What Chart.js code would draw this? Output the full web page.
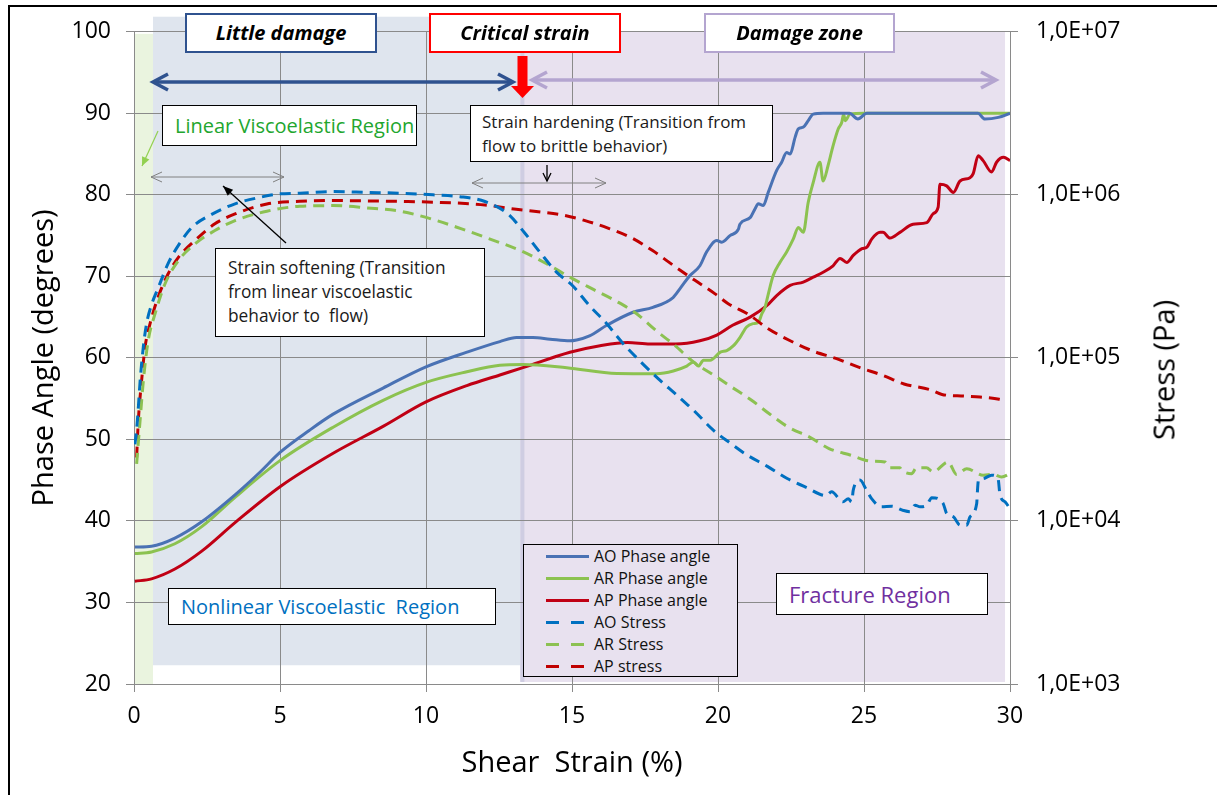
<!DOCTYPE html>
<html>
<head>
<meta charset="utf-8">
<script src="https://cdn.jsdelivr.net/npm/chart.js@4.4.1/dist/chart.umd.min.js"></script>
<style>
  body { margin: 0; background: #fff; font-family: "Open Sans", sans-serif; }
  #wrap { position: relative; width: 1217px; height: 795px; overflow: hidden; }
  #moldura { position: absolute; left: 8px; top: 5px; width: 1300px; height: 900px; border-top: 2px solid #000; border-left: 2px solid #000; }
  #grafico { position: absolute; left: 0; top: 0; }
  .caixa { position: absolute; background: #fff; border: 1px solid #000; box-sizing: border-box; white-space: pre; color: #1a1a1a; }
  .etiqueta { top: 13px; height: 40px; border-width: 2px; text-align: center; line-height: 36px; font-size: 20px; font-weight: bold; font-style: italic; color: #000; }
  #tituloDireita { position: absolute; left: 1163px; top: 370px; transform: translate(-50%, -50%) rotate(-90deg); font-size: 29px; white-space: nowrap; color: #000; }
  #legenda { position: absolute; left: 523px; top: 544px; width: 215px; height: 133px; border: 1px solid #000; box-sizing: border-box; background: #e8e1ef; }
  .item { height: 22px; display: flex; align-items: center; font-size: 16px; color: #111; }
  .amostra { width: 43px; height: 3px; margin-left: 22px; margin-right: 5px; }
</style>
</head>
<body>
<div id="wrap">
  <div id="moldura"></div>
  <canvas id="grafico" width="1217" height="795"></canvas>

  <div class="caixa etiqueta" style="left:185px; width:192px; border-color:#2f528f;">Little damage</div>
  <div class="caixa etiqueta" style="left:429px; width:192px; border-color:#ff0000;">Critical strain</div>
  <div class="caixa etiqueta" style="left:704px; width:191px; border-color:#b4a5d0;">Damage zone</div>

  <div class="caixa" style="left:162px; top:105px; width:255px; height:41px; padding-left:12px; line-height:39px; font-size:20px; color:#22a62e;">Linear Viscoelastic Region</div>
  <div class="caixa" style="left:470px; top:105px; width:303px; height:57px; padding:4px 11px; line-height:24px; font-size:17px;">Strain hardening (Transition from
flow to brittle behavior)</div>
  <div class="caixa" style="left:215px; top:248px; width:270px; height:89px; padding:7px 12px; line-height:24px; font-size:17.3px;">Strain softening (Transition
from linear viscoelastic
behavior to  flow)</div>
  <div class="caixa" style="left:168px; top:588px; width:328px; height:37px; padding-left:12px; line-height:35px; font-size:20px; color:#0070c0;">Nonlinear Viscoelastic  Region</div>
  <div class="caixa" style="left:776px; top:573px; width:212px; height:42px; padding-left:12px; line-height:40px; font-size:22px; color:#7030a0;">Fracture Region</div>

  <div id="legenda"></div>
  <div id="tituloDireita">Stress (Pa)</div>
</div>

<script>
// deformação (%) e ângulo de fase (graus)
const aoPhaseStrain = [0.03, 0.6, 1.4, 2.32, 3.46, 4.32, 5.0, 6.0, 6.82, 8.53, 10.0, 11.4, 12.53, 13.1, 13.66, 14.25, 14.93, 15.16, 15.6, 16.19, 17.09, 17.77, 18.46, 18.7, 19.04, 19.38, 19.61, 19.96, 20.13, 20.41, 20.7, 20.75, 21.1, 21.27, 21.38, 21.55, 21.72, 22.01, 22.18, 22.35, 22.47, 22.64, 22.75, 22.92, 23.09, 23.26, 23.6, 24.5, 24.79, 25.1, 26, 27, 28, 28.9, 29.14, 29.6, 30];
const aoPhase = [36.8, 36.9, 37.9, 39.9, 43.2, 46.0, 48.4, 51.1, 53.1, 56.3, 58.9, 60.7, 62.0, 62.5, 62.5, 62.3, 62.1, 62.2, 62.7, 64.0, 65.6, 66.2, 67.4, 68.5, 70.1, 71.3, 73.0, 74.4, 74.2, 75.0, 75.8, 76.4, 77.2, 78.3, 78.9, 78.7, 80.3, 83.0, 84.0, 85.2, 85.0, 87.05, 88.1, 88.3, 89.1, 89.9, 90, 90, 89.3, 90, 90, 90, 90, 90, 89.3, 89.5, 90];

const arPhaseStrain = [0.03, 0.6, 1.4, 2.32, 3.46, 5.0, 6.82, 8.53, 10.0, 11.4, 12.53, 13.32, 14.82, 16.54, 17.9, 18.47, 18.93, 19.16, 19.33, 19.5, 19.73, 20.08, 20.3, 20.53, 20.75, 20.98, 21.2, 21.39, 21.5, 21.61, 21.72, 21.89, 22.12, 22.35, 22.58, 22.75, 22.92, 23.09, 23.26, 23.49, 23.6, 23.77, 23.94, 24.12, 24.24, 24.3, 24.36, 24.52, 25, 30];
const arPhase = [36.0, 36.2, 37.2, 39.3, 42.9, 47.4, 51.5, 54.8, 57.0, 58.3, 59.1, 59.2, 58.8, 58.1, 58.07, 58.4, 59.0, 59.5, 59.0, 59.7, 59.7, 60.7, 60.9, 61.5, 62.5, 63.8, 64.2, 64.4, 65.4, 66.2, 67.8, 70.1, 71.7, 73.0, 74.6, 76.0, 75.4, 79.1, 81.5, 84.0, 81.7, 83.6, 86.0, 88.1, 88.9, 89.9, 89.1, 89.9, 90, 90];

const apPhaseStrain = [0.03, 0.6, 1.4, 2.32, 3.46, 5.0, 6.82, 8.53, 10.0, 11.4, 12.53, 13.32, 14.93, 15.96, 16.9, 17.67, 18.55, 19.38, 19.96, 20.5, 21.1, 21.67, 22.01, 22.47, 22.92, 23.26, 23.6, 23.94, 24.18, 24.41, 24.64, 24.93, 25.1, 25.27, 25.55, 25.65, 25.89, 26.23, 26.68, 27.15, 27.37, 27.54, 27.6, 27.83, 28.06, 28.29, 28.63, 28.74, 28.91, 29.08, 29.37, 29.54, 29.78, 30];
const apPhase = [32.6, 32.9, 34.1, 36.3, 39.8, 44.2, 48.3, 51.6, 54.6, 56.6, 57.9, 58.8, 60.7, 61.5, 61.9, 61.7, 61.7, 62.1, 62.8, 64.0, 65.0, 66.4, 67.65, 68.9, 69.3, 69.9, 70.5, 71.3, 72.2, 71.7, 72.6, 73.4, 73.6, 74.6, 75.4, 75.4, 74.7, 75.4, 76.4, 76.6, 77.7, 78.5, 81.3, 81.1, 80.3, 81.7, 82.1, 82.6, 84.8, 84.2, 82.8, 84.0, 84.6, 84.2];

// tensão (Pa), eixo secundário log
const aoStressStrain = [0.03, 0.09, 0.15, 0.21, 0.32, 0.43, 0.61, 0.83, 1.17, 1.52, 1.98, 2.66, 3.46, 4.32, 5.0, 5.68, 6.82, 7.98, 9.11, 10.24, 11.16, 12.02, 12.81, 13.36, 13.9, 14.47, 15.04, 15.59, 16.19, 16.74, 17.33, 17.95, 18.56, 19.19, 19.82, 20.41, 20.96, 21.69, 22.37, 23.04, 23.7, 23.89, 24.28, 24.46, 24.58, 24.63, 24.86, 25.09, 25.26, 25.6, 25.95, 26.35, 26.58, 26.75, 26.92, 27.15, 27.32, 27.71, 27.83, 28.06, 28.29, 28.52, 28.63, 28.86, 28.88, 28.92, 29.08, 29.37, 29.59, 29.66, 29.83, 30];
const aoStress = [29500, 36300, 50100, 72400, 117000, 162000, 214000, 269000, 380000, 490000, 631000, 759000, 881000, 966000, 1014000, 1023000, 1047000, 1035000, 1023000, 1000000, 975000, 910000, 764000, 590000, 445000, 336000, 275000, 210000, 162000, 123000, 95500, 74600, 59700, 47200, 36300, 30100, 25600, 21600, 18200, 16000, 14300, 15100, 13100, 13700, 13100, 15400, 17800, 15400, 13700, 12200, 12300, 11600, 11400, 12500, 12200, 12500, 13900, 12800, 11100, 10600, 9420, 9420, 10600, 12800, 14800, 17800, 18200, 19100, 18200, 14400, 13100, 11900];

const arStressStrain = [0.09, 0.21, 0.32, 0.49, 0.72, 1.06, 1.52, 2.09, 2.77, 3.46, 4.55, 5.68, 6.82, 7.98, 9.11, 10.37, 11.22, 12.08, 13.28, 14.13, 14.88, 15.73, 16.47, 17.19, 17.88, 18.48, 19.21, 19.78, 20.47, 21.15, 21.78, 22.4, 23.18, 23.8, 24.55, 25.21, 25.72, 25.89, 26.23, 26.29, 26.63, 26.8, 27.14, 27.37, 27.88, 28.17, 28.52, 29.08, 29.42, 29.71, 30];
const arStress = [22400, 41700, 72400, 129000, 186000, 284000, 395000, 501000, 604000, 695000, 794000, 851000, 859000, 832000, 794000, 695000, 618000, 545000, 451000, 378000, 316000, 263000, 225000, 188000, 147000, 121000, 92900, 80000, 66200, 55000, 45100, 37700, 32400, 27800, 25300, 23300, 23000, 21200, 21200, 20500, 19500, 21200, 21200, 20000, 23000, 19300, 20900, 19100, 19300, 18600, 19500];

const apStressStrain = [0.09, 0.15, 0.26, 0.38, 0.55, 0.83, 1.17, 1.52, 2.09, 2.77, 3.46, 4.55, 5.68, 6.82, 7.98, 9.11, 10.24, 12.02, 12.88, 13.7, 14.65, 15.45, 16.21, 17.04, 17.76, 18.53, 19.21, 19.9, 20.35, 21.04, 21.72, 22.49, 23.26, 24.06, 24.86, 25.64, 26.37, 27.26, 27.67, 28.42, 28.97, 29.63, 29.86];
const apStress = [24500, 41700, 72400, 117000, 162000, 237000, 328000, 414000, 525000, 664000, 764000, 879000, 912000, 923000, 918000, 912000, 902000, 867000, 824000, 793000, 753000, 695000, 627000, 545000, 455000, 363000, 299000, 247000, 215000, 185000, 151000, 127000, 110000, 98900, 87100, 78200, 69200, 63800, 59700, 58300, 57500, 55700, 54000];

// limites das regiões (deformação %): linear | pouco dano | crítico | zona de dano
const regionStrain = [0, 0.65, 13.23, 13.37, 29.83];
const stressTicks = [1e3, 1e4, 1e5, 1e6, 1e7];

const series = [
  { label: "AO Phase angle", x: aoPhaseStrain, y: aoPhase, color: "#4a72b4", dash: [], axis: "y" },
  { label: "AR Phase angle", x: arPhaseStrain, y: arPhase, color: "#8cc250", dash: [], axis: "y" },
  { label: "AP Phase angle", x: apPhaseStrain, y: apPhase, color: "#c00014", dash: [], axis: "y" },
  { label: "AO Stress", x: aoStressStrain, y: aoStress, color: "#0070c0", dash: [11, 7], axis: "y2" },
  { label: "AR Stress", x: arStressStrain, y: arStress, color: "#8cc152", dash: [11, 7], axis: "y2" },
  { label: "AP stress", x: apStressStrain, y: apStress, color: "#c00000", dash: [11, 7], axis: "y2" },
];

const corGrade = "#8a8a8a";

// FUNDO DAS REGIÕES
const fundoRegioes = {
  id: "fundoRegioes",
  beforeDraw(chart) {
    const ctx = chart.ctx;
    const sx = chart.scales.x, sy = chart.scales.y;
    function faixa(x0, x1, yTop, yBottom, cor) {
      const a = sx.getPixelForValue(x0), b = sx.getPixelForValue(x1);
      const t = sy.getPixelForValue(yTop), f = sy.getPixelForValue(yBottom);
      ctx.fillStyle = cor;
      ctx.fillRect(a, t, b - a, f - t);
    }
    ctx.save();
    faixa(regionStrain[0], regionStrain[1], 99.75, 20, "#eaf4df");
    faixa(regionStrain[1], regionStrain[2], 101.85, 22.3, "#dfe5ee");
    faixa(regionStrain[2], regionStrain[4], 100, 20.25, "#e8e1ef");
    faixa(regionStrain[2], regionStrain[3], 100, 20.25, "#cfcde2");
    ctx.restore();
  },
};

// SETAS
function ponta(ctx, x, y, ang, comp, abre, cheia) {
  ctx.beginPath();
  ctx.moveTo(x - comp * Math.cos(ang) + abre * Math.sin(ang), y - comp * Math.sin(ang) - abre * Math.cos(ang));
  ctx.lineTo(x, y);
  ctx.lineTo(x - comp * Math.cos(ang) - abre * Math.sin(ang), y - comp * Math.sin(ang) + abre * Math.cos(ang));
  if (cheia) { ctx.closePath(); ctx.fill(); } else ctx.stroke();
}

function seta(ctx, x1, y1, x2, y2, cor, largura, comp, abre, duas, cheia) {
  ctx.save();
  ctx.strokeStyle = cor;
  ctx.fillStyle = cor;
  ctx.lineWidth = largura;
  ctx.lineJoin = "miter";
  ctx.beginPath();
  ctx.moveTo(x1, y1);
  ctx.lineTo(x2, y2);
  ctx.stroke();
  const ang = Math.atan2(y2 - y1, x2 - x1);
  ponta(ctx, x2, y2, ang, comp, abre, cheia);
  if (duas) ponta(ctx, x1, y1, ang + Math.PI, comp, abre, cheia);
  ctx.restore();
}

const setas = {
  id: "setas",
  afterDraw(chart) {
    const ctx = chart.ctx;
    seta(ctx, 153, 82, 513, 82, "#2f528f", 3.5, 15, 8, true, false);
    seta(ctx, 532, 80, 996, 80, "#b4a5d0", 3.5, 15, 8, true, false);
    seta(ctx, 151, 177, 284, 177, "#808080", 1, 11, 5, true, false);
    seta(ctx, 472, 183, 606, 183, "#808080", 1, 11, 5, true, false);
    seta(ctx, 286, 243, 223, 186, "#000", 1.3, 10, 4, false, true);
    seta(ctx, 547, 165, 547, 181, "#000", 1.3, 8, 4, false, false);
    seta(ctx, 158, 131, 142, 166, "#92d050", 1.2, 9, 4, false, true);
    // seta vermelha grossa
    ctx.save();
    ctx.fillStyle = "#ff0000";
    ctx.fillRect(517.5, 56, 10, 31);
    ctx.beginPath();
    ctx.moveTo(511, 86);
    ctx.lineTo(534, 86);
    ctx.lineTo(522.5, 98);
    ctx.closePath();
    ctx.fill();
    ctx.restore();
  },
};

function montarDatasets() {
  return series.map((s, i) => ({
    label: s.label,
    data: s.x.map((v, j) => ({ x: v, y: s.y[j] })),
    borderColor: s.color,
    backgroundColor: s.color,
    borderWidth: 3,
    borderDash: s.dash,
    pointRadius: 0,
    cubicInterpolationMode: "monotone",
    yAxisID: s.axis,
    order: s.axis == "y2" ? 0 : 1,
  }));
}

function mostrarLegenda() {
  const div = document.getElementById("legenda");
  let html = "";
  for (let i = 0; i < series.length; i++) {
    const s = series[i];
    let fundo = s.color;
    if (s.dash.length) {
      fundo = `linear-gradient(to right, ${s.color} 0 13px, transparent 13px 25px, ${s.color} 25px 38px, transparent 38px)`;
    }
    html += `<div class="item"><span class="amostra" style="background:${fundo}"></span>${s.label}</div>`;
  }
  div.innerHTML = html;
}

const fonteTick = { family: "'Open Sans', sans-serif", size: 23 };
const fonteTitulo = { family: "'Open Sans', sans-serif", size: 29 };

new Chart(document.getElementById("grafico"), {
  type: "line",
  data: { datasets: montarDatasets() },
  options: {
    responsive: false,
    animation: false,
    devicePixelRatio: 1,
    layout: { padding: { top: 31, left: 0, right: 0, bottom: 0 } },
    plugins: { legend: { display: false }, tooltip: { enabled: false } },
    scales: {
      x: {
        type: "linear",
        min: 0,
        max: 30,
        ticks: { stepSize: 5, color: "#000", font: fonteTick, padding: 11, maxRotation: 0 },
        grid: { color: corGrade, tickLength: 8 },
        border: { color: corGrade },
        title: { display: true, text: "Shear  Strain (%)", color: "#000", font: fonteTitulo, padding: { top: 0, bottom: 14 } },
        afterFit(s) { s.height = 111; },
      },
      y: {
        position: "left",
        min: 20,
        max: 100,
        ticks: { stepSize: 10, color: "#000", font: fonteTick, padding: 15 },
        grid: { color: corGrade, tickLength: 8 },
        border: { color: corGrade },
        title: { display: true, text: "Phase Angle (degrees)", color: "#000", font: fonteTitulo, padding: { top: 27, bottom: 0 } },
        afterFit(s) { s.width = 134; },
      },
      y2: {
        type: "logarithmic",
        position: "right",
        min: stressTicks[0],
        max: stressTicks[stressTicks.length - 1],
        afterBuildTicks(s) { s.ticks = stressTicks.map((v) => ({ value: v })); },
        ticks: {
          color: "#000",
          font: fonteTick,
          padding: 18,
          callback: (v) => "1,0E+" + String(Math.round(Math.log10(v))).padStart(2, "0"),
        },
        grid: { drawOnChartArea: false, color: corGrade, tickLength: 8 },
        border: { color: corGrade },
        afterFit(s) { s.width = 207; },
      },
    },
  },
  plugins: [fundoRegioes, setas],
});

mostrarLegenda();
</script>
</body>
</html>
